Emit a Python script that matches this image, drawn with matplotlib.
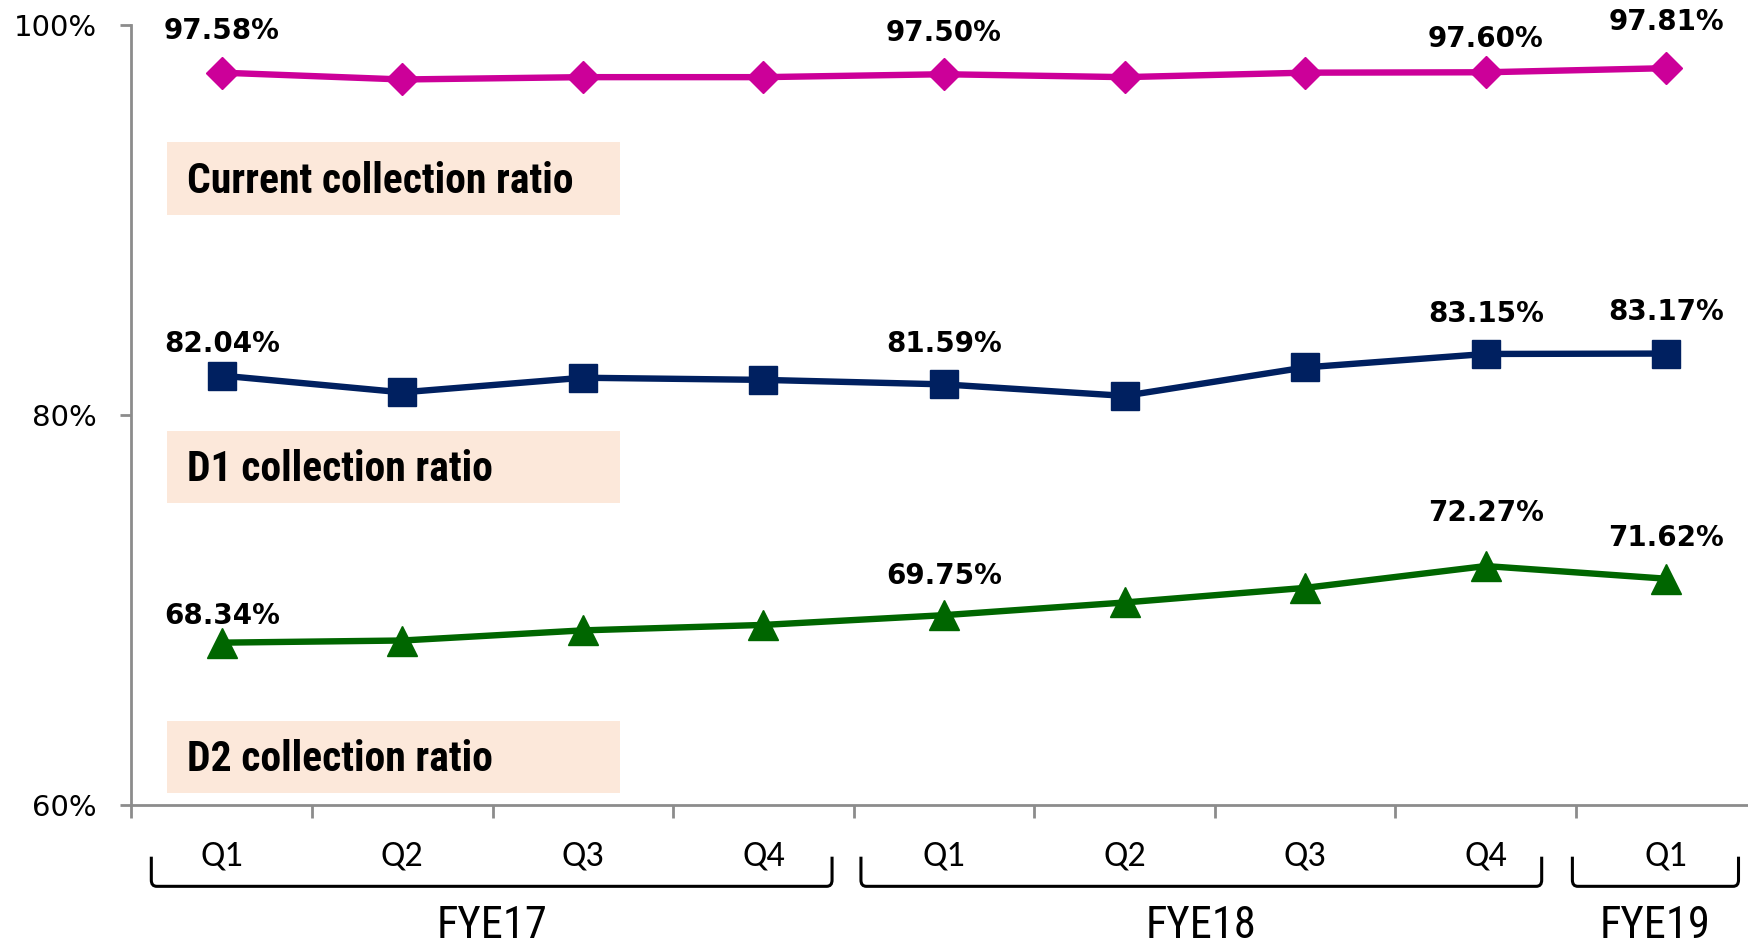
import matplotlib
matplotlib.use('Agg')
import matplotlib.pyplot as plt
from matplotlib.patches import Rectangle, PathPatch
from matplotlib.path import Path
import matplotlib.transforms as mtransforms

quarters = ['Q1', 'Q2', 'Q3', 'Q4', 'Q1', 'Q2', 'Q3', 'Q4', 'Q1']
years = ['FYE17', 'FYE18', 'FYE19']
year_spans = [(0, 3), (4, 7), (8, 8)]

current = [97.58, 97.23, 97.35, 97.35, 97.50, 97.35, 97.58, 97.60, 97.81]
d1 = [82.04, 81.18, 81.93, 81.82, 81.59, 81.00, 82.46, 83.15, 83.17]
d2 = [68.34, 68.45, 68.97, 69.25, 69.75, 70.40, 71.15, 72.27, 71.62]
labelled = [0, 4, 7, 8]

series_names = ['Current collection ratio', 'D1 collection ratio', 'D2 collection ratio']

narrow = ['Roboto Condensed', 'PT Sans Narrow', 'DejaVu Sans']
calib = ['Carlito', 'Open Sans', 'DejaVu Sans']

fig = plt.figure(figsize=(17.48, 9.44), dpi=100)
# the axis runs slightly past the right edge, as in the source slide
ax = fig.add_axes([0.0752, 0.147, 0.9297, 0.826])

x = list(range(len(quarters)))
grey = '#8c8c8c'

ax.plot(x, current, color='#CC0099', lw=4.6, marker='D', ms=16.5, zorder=3)
ax.plot(x, d1, color='#002060', lw=4.6, marker='s', ms=19.5, zorder=3)
ax.plot(x, d2, color='#006600', lw=4.6, marker='^', ms=22, zorder=3)

# label offsets in points (vertical)
offs = {
    'cur': [30, 30, 24, 33],
    'd1': [23, 29, 29, 30],
    'd2': [19, 28, 38, 29],
}
for key, vals in (('cur', current), ('d1', d1), ('d2', d2)):
    for k, i in enumerate(labelled):
        ax.annotate('%.2f%%' % vals[i], (i, vals[i]), xytext=(0, offs[key][k]),
                    textcoords='offset points', ha='center', va='center',
                    fontsize=20, fontweight='bold', color='black',
                    family='DejaVu Sans')

ax.set_xlim(-0.5, 8.5)
ax.set_ylim(60, 100)
ax.set_yticks([60, 80, 100])
ax.set_yticklabels(['60%', '80%', '100%'], fontsize=21, family='DejaVu Sans')
ax.set_xticks([i - 0.5 for i in range(10)])
ax.set_xticklabels([])
ax.tick_params(axis='y', length=8, width=2, color=grey, pad=17)
ax.tick_params(axis='x', length=9, width=2, color=grey)
for s in ['top', 'right']:
    ax.spines[s].set_visible(False)
for s in ['left', 'bottom']:
    ax.spines[s].set_color(grey)
    ax.spines[s].set_linewidth(2)

# series name boxes
box_y = [0.757, 0.387, 0.0154]
for name, y0 in zip(series_names, box_y):
    ax.add_patch(Rectangle((0.0218, y0), 0.279, 0.093, transform=ax.transAxes,
                           facecolor='#FCE8DA', edgecolor='none', zorder=1))
    ax.text(0.034, y0 + 0.043, name, transform=ax.transAxes, ha='left', va='center',
            fontsize=30, fontweight='bold', family=narrow, zorder=2)

# quarter and year labels with brackets
trans = mtransforms.blended_transform_factory(ax.transData, ax.transAxes)
for i, q in enumerate(quarters):
    ax.text(i, -0.064, q, transform=trans, ha='center', va='center', fontsize=26,
            family=calib, clip_on=False)

bracket_pad = [(0.39, 0.38), (0.46, 0.31), (0.52, 0.40)]
for yr, (a, b), (pl, pr) in zip(years, year_spans, bracket_pad):
    x0, x1 = a - pl, b + pr
    top, bot = -0.066, -0.104
    verts = [(x0, top), (x0, bot + 0.008), (x0, bot), (x0 + 0.03, bot),
             (x1 - 0.03, bot), (x1, bot), (x1, bot + 0.008), (x1, top)]
    codes = [Path.MOVETO, Path.LINETO, Path.CURVE3, Path.CURVE3,
             Path.LINETO, Path.CURVE3, Path.CURVE3, Path.LINETO]
    ax.add_patch(PathPatch(Path(verts, codes), transform=trans, fill=False,
                           edgecolor='black', lw=2.2, clip_on=False))
    ax.text((x0 + x1) / 2, -0.155, yr, transform=trans, ha='center', va='center',
            fontsize=32, family=narrow, clip_on=False)

fig.savefig('out.png', dpi=100)
